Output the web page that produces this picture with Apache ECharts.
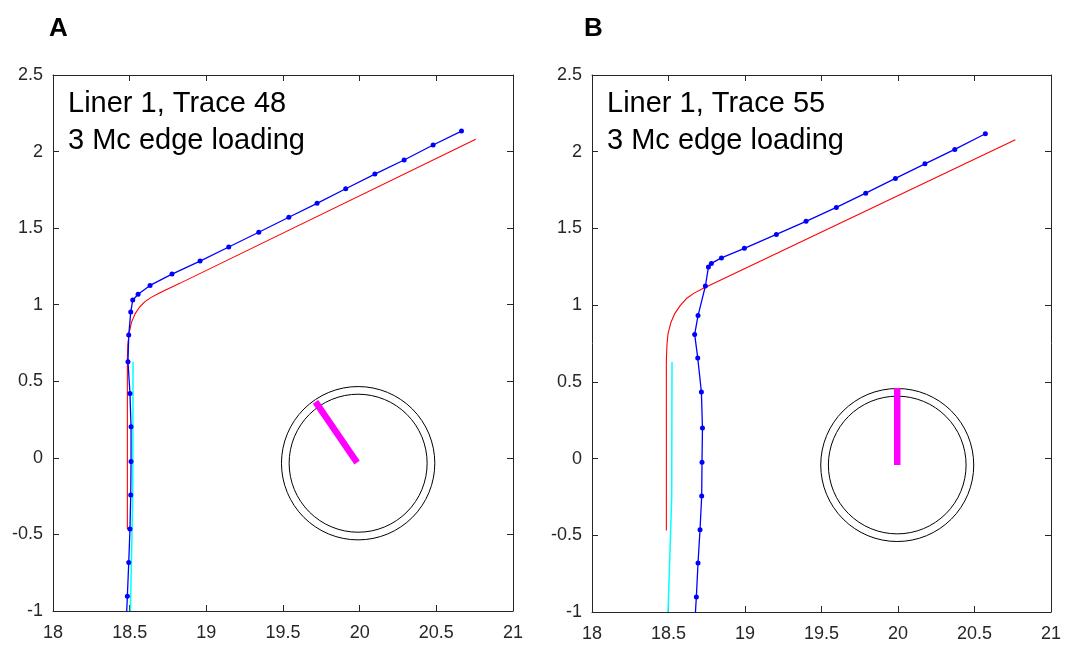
<!DOCTYPE html>
<html>
<head>
<meta charset="utf-8">
<title>Liner 1 traces</title>
<script src="https://cdn.jsdelivr.net/npm/echarts@6/dist/echarts.min.js"></script>
<style>
  html, body { margin: 0; padding: 0; background: #fff; }
  #chart { width: 1069px; height: 645px; }
</style>
</head>
<body>
<div id="chart"></div>
<script>
// Axis ticks (shared by both panels)
const xTicks = { min: 18, max: 21, step: 0.5 };
const yTicks = { min: -1, max: 2.5, step: 0.5 };

// Panel A: Liner 1, Trace 48
const titleA = ['Liner 1, Trace 48', '3 Mc edge loading'];
const measuredA = [
  [20.664, 2.134], [20.479, 2.043], [20.290, 1.945], [20.099, 1.853],
  [19.909, 1.757], [19.722, 1.662], [19.538, 1.571], [19.342, 1.473],
  [19.146, 1.377], [18.959, 1.285], [18.776, 1.200], [18.633, 1.126],
  [18.555, 1.068], [18.520, 1.030], [18.507, 0.952], [18.494, 0.802],
  [18.489, 0.627], [18.502, 0.421], [18.509, 0.203], [18.509, -0.023],
  [18.507, -0.243], [18.502, -0.465], [18.494, -0.683], [18.485, -0.903],
  [18.476, -1.120]
];
const nominalA = [
  [18.500, -0.465], [18.485, -0.465], [18.485, 0.650], [18.488, 0.740],
  [18.497, 0.820], [18.512, 0.885], [18.535, 0.940], [18.565, 0.985],
  [18.600, 1.020], [18.640, 1.048], [18.685, 1.072], [18.730, 1.095],
  [18.780, 1.118], [18.830, 1.141], [20.757, 2.080]
];
const referenceA = [[18.522, 0.627], [18.520, -0.254], [18.505, -1.000]];
const ringA = [[19.990, -0.035, 0.50], [19.990, -0.035, 0.45]];
const pointerA = [[19.983, -0.031], [19.712, 0.366]];

// Panel B: Liner 1, Trace 55
const titleB = ['Liner 1, Trace 55', '3 Mc edge loading'];
const measuredB = [
  [20.571, 2.117], [20.371, 2.015], [20.176, 1.921], [19.983, 1.826],
  [19.789, 1.730], [19.597, 1.637], [19.399, 1.546], [19.205, 1.461],
  [18.996, 1.370], [18.846, 1.308], [18.780, 1.272], [18.761, 1.248],
  [18.741, 1.124], [18.693, 0.932], [18.671, 0.809], [18.691, 0.656],
  [18.715, 0.434], [18.722, 0.199], [18.719, -0.024], [18.717, -0.244],
  [18.706, -0.464], [18.693, -0.681], [18.682, -0.903], [18.669, -1.120]
];
const nominalB = [
  [18.486, -0.468], [18.486, 0.640], [18.490, 0.740], [18.497, 0.815],
  [18.515, 0.885], [18.541, 0.945], [18.575, 0.995], [18.617, 1.043],
  [18.670, 1.080], [18.725, 1.109], [18.780, 1.135], [20.767, 2.078]
];
const referenceB = [[18.523, 0.630], [18.521, -0.250], [18.497, -1.000]];
const ringB = [[19.995, -0.042, 0.50], [19.995, -0.042, 0.45]];
const pointerB = [[19.995, -0.042], [19.995, 0.460]];

const FONT = 'Liberation Sans, Arial, Helvetica, sans-serif';
const AXIS_COLOR = '#262626';

function xAxisFor(gridIndex, position) {
  return {
    type: 'value', gridIndex, position,
    min: xTicks.min, max: xTicks.max, interval: xTicks.step,
    axisLine: { show: true, onZero: false, lineStyle: { color: AXIS_COLOR, width: 1 } },
    axisTick: { show: true, inside: true, length: 6, lineStyle: { color: AXIS_COLOR } },
    axisLabel: {
      show: position === 'bottom', margin: 13,
      color: AXIS_COLOR, fontSize: 18, fontFamily: FONT
    },
    splitLine: { show: false }
  };
}

function yAxisFor(gridIndex, position) {
  return {
    type: 'value', gridIndex, position,
    min: yTicks.min, max: yTicks.max, interval: yTicks.step,
    axisLine: { show: true, onZero: false, lineStyle: { color: AXIS_COLOR, width: 1 } },
    axisTick: { show: true, inside: true, length: 6, lineStyle: { color: AXIS_COLOR } },
    axisLabel: {
      show: position === 'left', margin: 10,
      color: AXIS_COLOR, fontSize: 18, fontFamily: FONT
    },
    splitLine: { show: false }
  };
}

// Circles drawn in data units: [cx, cy, r]
function ringSeries(data, axisIdx) {
  return {
    type: 'custom',
    xAxisIndex: axisIdx, yAxisIndex: axisIdx,
    data,
    silent: true,
    renderItem(params, api) {
      const c = api.coord([api.value(0), api.value(1)]);
      const r = api.size([api.value(2), api.value(2)])[0];
      return {
        type: 'circle',
        shape: { cx: c[0], cy: c[1], r },
        style: { fill: 'none', stroke: '#000', lineWidth: 1 }
      };
    },
    z: 4
  };
}

function panelSeries(axisIdx, nominal, reference, measured, ring, pointer) {
  return [
    {
      type: 'line', xAxisIndex: axisIdx, yAxisIndex: axisIdx,
      data: nominal, showSymbol: false, symbol: 'none',
      lineStyle: { color: '#ff0000', width: 1.1 }, z: 2
    },
    {
      type: 'line', xAxisIndex: axisIdx, yAxisIndex: axisIdx,
      data: reference, showSymbol: false, symbol: 'none',
      lineStyle: { color: '#00ffff', width: 1.5 }, z: 2
    },
    {
      type: 'line', xAxisIndex: axisIdx, yAxisIndex: axisIdx,
      data: measured, symbol: 'circle', symbolSize: 5, showSymbol: true,
      itemStyle: { color: '#0000ff' },
      lineStyle: { color: '#0000ff', width: 1.3 }, z: 3
    },
    ringSeries(ring, axisIdx),
    {
      type: 'line', xAxisIndex: axisIdx, yAxisIndex: axisIdx,
      data: pointer, showSymbol: false, symbol: 'none',
      lineStyle: { color: '#ff00ff', width: 6.5, cap: 'butt' }, z: 5
    }
  ];
}

const chart = echarts.init(document.getElementById('chart'), null, { renderer: 'canvas' });

chart.setOption({
  animation: false,
  backgroundColor: '#fff',
  grid: [
    { left: 53, top: 75, width: 460, height: 536 },
    { left: 592, top: 75, width: 459, height: 537 }
  ],
  // axes 0/1 carry the data of panels A/B, axes 2/3 close the frames on top and right
  xAxis: [
    xAxisFor(0, 'bottom'), xAxisFor(1, 'bottom'),
    xAxisFor(0, 'top'), xAxisFor(1, 'top')
  ],
  yAxis: [
    yAxisFor(0, 'left'), yAxisFor(1, 'left'),
    yAxisFor(0, 'right'), yAxisFor(1, 'right')
  ],
  series: [
    ...panelSeries(0, nominalA, referenceA, measuredA, ringA, pointerA),
    ...panelSeries(1, nominalB, referenceB, measuredB, ringB, pointerB),
    { type: 'line', xAxisIndex: 2, yAxisIndex: 2, data: [] },
    { type: 'line', xAxisIndex: 3, yAxisIndex: 3, data: [] }
  ],
  graphic: [
    { type: 'text', left: 49, top: 16, style: { text: 'A', fontSize: 26, fontWeight: 'bold', fontFamily: FONT, fill: '#000' } },
    { type: 'text', left: 584, top: 16, style: { text: 'B', fontSize: 26, fontWeight: 'bold', fontFamily: FONT, fill: '#000' } },
    { type: 'text', left: 68, top: 89, style: { text: titleA[0], fontSize: 29, fontFamily: FONT, fill: '#000' } },
    { type: 'text', left: 68, top: 126, style: { text: titleA[1], fontSize: 29, fontFamily: FONT, fill: '#000' } },
    { type: 'text', left: 607, top: 89, style: { text: titleB[0], fontSize: 29, fontFamily: FONT, fill: '#000' } },
    { type: 'text', left: 607, top: 126, style: { text: titleB[1], fontSize: 29, fontFamily: FONT, fill: '#000' } }
  ]
});
</script>
</body>
</html>
